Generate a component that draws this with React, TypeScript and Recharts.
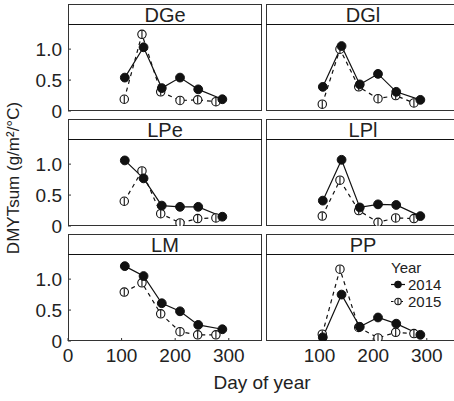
import { Legend, Line, LineChart, XAxis, YAxis } from "recharts";

const SITES = ["DGe", "DGl", "LPe", "LPl", "LM", "PP"];
const YEARS = ["2014", "2015"];
const DAYS_2014 = [106, 141, 175, 209, 243, 288];
const DAYS_2015 = [105, 138, 173, 209, 242, 276];
const X_TICKS = [0, 100, 200, 300];
const Y_TICKS = [0, 0.5, 1];

// DMYTsum per site, one array per year
const DGE_2014 = [0.54, 1.03, 0.37, 0.54, 0.35, 0.19];
const DGE_2015 = [0.19, 1.24, 0.31, 0.17, 0.18, 0.15];
const DGL_2014 = [0.39, 1.05, 0.43, 0.6, 0.31, 0.18];
const DGL_2015 = [0.11, 1.0, 0.39, 0.2, 0.25, 0.13];
const LPE_2014 = [1.06, 0.77, 0.33, 0.31, 0.31, 0.15];
const LPE_2015 = [0.4, 0.89, 0.2, 0.05, 0.12, 0.13];
const LPL_2014 = [0.41, 1.07, 0.3, 0.35, 0.34, 0.16];
const LPL_2015 = [0.16, 0.74, 0.25, 0.06, 0.13, 0.12];
const LM_2014 = [1.21, 1.05, 0.61, 0.48, 0.26, 0.19];
const LM_2015 = [0.79, 0.94, 0.44, 0.15, 0.1, 0.1];
const PP_2014 = [0.06, 0.75, 0.23, 0.38, 0.28, 0.1];
const PP_2015 = [0.11, 1.16, 0.22, 0.05, 0.14, 0.12];

const VALUES: Record<string, number[][]> = {
  DGe: [DGE_2014, DGE_2015],
  DGl: [DGL_2014, DGL_2015],
  LPe: [LPE_2014, LPE_2015],
  LPl: [LPL_2014, LPL_2015],
  LM: [LM_2014, LM_2015],
  PP: [PP_2014, PP_2015],
};

const FONT = '"Liberation Sans", Arial, sans-serif';
const INK = "#222";
const PLOT_W = 194;
const PLOT_H = 86;
const ROW_STEP = 115;

const toRows = (days: number[], vals: number[]) => days.map((d, i) => ({ day: d, value: vals[i] }));

const filledDot = (size: number) => ({ cx, cy }: any) => (
  <circle cx={cx} cy={cy} r={size} fill="#111" stroke="#111" strokeWidth={1} />
);

const openDot = (size: number) => ({ cx, cy }: any) => (
  <g>
    <circle cx={cx} cy={cy} r={size} fill="#fff" stroke="#111" strokeWidth={1.1} />
    <line x1={cx} x2={cx} y1={cy - size + 0.5} y2={cy + size - 0.5} stroke="#111" strokeWidth={1.1} />
  </g>
);

const Dot14 = filledDot(4.4);
const Dot15 = openDot(4.2);
const Key14 = filledDot(3.4);
const Key15 = openDot(3.2);

const renderLegend = () => (
  <div style={{ fontFamily: FONT, fontSize: 15, color: INK, lineHeight: "17px" }}>
    <div>Year</div>
    {YEARS.map((y, i) => (
      <div key={y} style={{ display: "flex", alignItems: "center" }}>
        <svg width={14} height={17} style={{ marginRight: 3 }}>
          <line x1={0} x2={14} y1={8.5} y2={8.5} stroke="#111" strokeWidth={1.2} strokeDasharray={i === 1 ? "2.5 7" : undefined} />
          {i === 0 ? <Key14 cx={7} cy={8.5} /> : <Key15 cx={7} cy={8.5} />}
        </svg>
        <span>{y}</span>
      </div>
    ))}
  </div>
);

const Panel = ({ site, index }: { site: string; index: number }) => {
  const col = index % 2;
  const row = Math.floor(index / 2);
  const last = row === 2;
  const plotX = col === 0 ? 68 : 266;
  const axisW = col === 0 ? 68 : 0;
  const stripTop = 4 + ROW_STEP * row;
  const plotTop = 25 + ROW_STEP * row;
  const [v14, v15] = VALUES[site];

  return (
    <>
      <div
        style={{
          position: "absolute",
          left: plotX,
          top: stripTop,
          width: PLOT_W,
          height: PLOT_H + 21,
          border: "1px solid #333",
          boxSizing: "border-box",
        }}
      />
      <div
        style={{
          position: "absolute",
          left: plotX,
          top: stripTop,
          width: PLOT_W,
          height: 21,
          borderBottom: "1px solid #111",
          boxSizing: "border-box",
          textAlign: "center",
          fontFamily: FONT,
          fontSize: 20,
          lineHeight: "23px",
          color: INK,
        }}
      >
        {site}
      </div>
      <div style={{ position: "absolute", left: plotX - axisW, top: plotTop }}>
        <LineChart
          width={axisW + PLOT_W}
          height={PLOT_H + (last ? 40 : 14)}
          margin={{ top: 0, right: 0, bottom: last ? 0 : 14, left: 0 }}
        >
          <XAxis
            type="number"
            dataKey="day"
            domain={[0, 362]}
            ticks={X_TICKS}
            hide={!last}
            height={40}
            axisLine={false}
            tickSize={-3}
            tickMargin={11}
            tickLine={{ stroke: "#333" }}
            tick={{ fontFamily: FONT, fontSize: 19, fill: INK }}
            allowDataOverflow
          />
          <YAxis
            type="number"
            domain={[0, 1.39]}
            ticks={Y_TICKS}
            hide={col !== 0}
            width={axisW}
            axisLine={false}
            tickSize={-3}
            tickMargin={9}
            tickLine={{ stroke: "#333" }}
            tick={{ fontFamily: FONT, fontSize: 19, fill: INK }}
            tickFormatter={(v: number) => (v === 0 ? "0" : v.toFixed(1))}
            allowDataOverflow
          />
          <Line
            data={toRows(DAYS_2015, v15)}
            dataKey="value"
            name="2015"
            stroke="#111"
            strokeWidth={1.2}
            strokeDasharray="4 4"
            dot={<Dot15 />}
            isAnimationActive={false}
          />
          <Line
            data={toRows(DAYS_2014, v14)}
            dataKey="value"
            name="2014"
            stroke="#111"
            strokeWidth={1.2}
            dot={<Dot14 />}
            isAnimationActive={false}
          />
          {site === "PP" && (
            <Legend
              layout="vertical"
              align="center"
              verticalAlign="middle"
              content={renderLegend}
              wrapperStyle={{ left: 125, top: 4, width: 70 }}
            />
          )}
        </LineChart>
      </div>
    </>
  );
};

export default function App() {
  return (
    <div style={{ position: "absolute", left: 0, top: 0, width: 454, height: 401, overflow: "hidden", background: "#fff" }}>
      {SITES.map((s, i) => (
        <Panel key={s} site={s} index={i} />
      ))}
      <div
        style={{
          position: "absolute",
          left: 14 - 150,
          top: 178 - 10,
          width: 300,
          height: 20,
          lineHeight: "20px",
          textAlign: "center",
          transform: "rotate(-90deg)",
          fontFamily: FONT,
          fontSize: 17,
          color: INK,
        }}
      >
        DMYTsum (g/m²/°C)
      </div>
      <div
        style={{
          position: "absolute",
          left: 262 - 100,
          top: 373,
          width: 200,
          textAlign: "center",
          fontFamily: FONT,
          fontSize: 19,
          lineHeight: "19px",
          color: INK,
        }}
      >
        Day of year
      </div>
    </div>
  );
}
